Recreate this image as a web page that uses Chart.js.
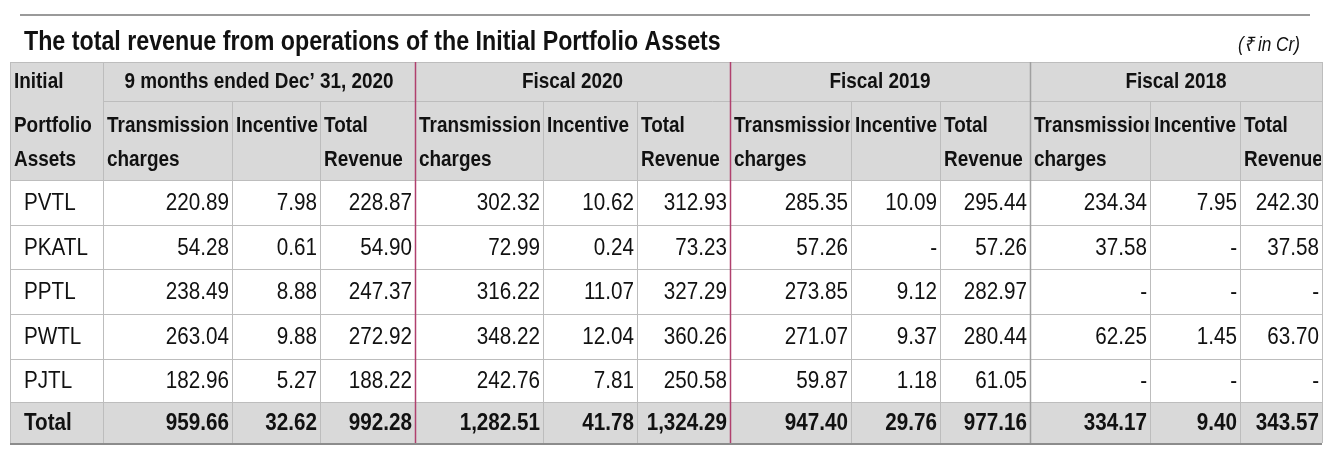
<!DOCTYPE html>
<html>
<head>
<meta charset="utf-8">
<script src="https://cdn.jsdelivr.net/npm/chart.js@4/dist/chart.umd.min.js"></script>
<style>
  html, body { margin: 0; padding: 0; background: #fff; }
  #wrap { width: 1330px; height: 463px; }
</style>
</head>
<body>
<div id="wrap"><canvas id="tbl"></canvas></div>
<script>
// Table data
const title = "The total revenue from operations of the Initial Portfolio Assets";
const unitNote = "(\u20B9 in Cr)";
const periods = ["9 months ended Dec\u2019 31, 2020", "Fiscal 2020", "Fiscal 2019", "Fiscal 2018"];
const subHeads = [["Transmission", "charges"], ["Incentive", ""], ["Total", "Revenue"]];
const assets = ["PVTL", "PKATL", "PPTL", "PWTL", "PJTL", "Total"];
const dec2020 = [
  ["220.89", "7.98", "228.87"], ["54.28", "0.61", "54.90"], ["238.49", "8.88", "247.37"],
  ["263.04", "9.88", "272.92"], ["182.96", "5.27", "188.22"], ["959.66", "32.62", "992.28"]
];
const fy2020 = [
  ["302.32", "10.62", "312.93"], ["72.99", "0.24", "73.23"], ["316.22", "11.07", "327.29"],
  ["348.22", "12.04", "360.26"], ["242.76", "7.81", "250.58"], ["1,282.51", "41.78", "1,324.29"]
];
const fy2019 = [
  ["285.35", "10.09", "295.44"], ["57.26", "-", "57.26"], ["273.85", "9.12", "282.97"],
  ["271.07", "9.37", "280.44"], ["59.87", "1.18", "61.05"], ["947.40", "29.76", "977.16"]
];
const fy2018 = [
  ["234.34", "7.95", "242.30"], ["37.58", "-", "37.58"], ["-", "-", "-"],
  ["62.25", "1.45", "63.70"], ["-", "-", "-"], ["334.17", "9.40", "343.57"]
];

// Layout (scale units)
const colEdges = [10, 103, 232, 320, 415, 543, 637, 730, 851, 940, 1030, 1150, 1240, 1322];
const rowEdges = [62, 101, 180, 225, 269, 314, 359, 402, 443];
const FONT = '"Liberation Sans", Arial, sans-serif';
const SQUEEZE = 0.86; // narrow the text like Calibri

function txt(ctx, s, x, y, align) {
  ctx.save();
  ctx.translate(x, y);
  ctx.scale(SQUEEZE, 1);
  ctx.textAlign = align;
  ctx.fillText(s, 0, 0);
  ctx.restore();
}

const tablePlugin = {
  id: "tablePlugin",
  afterDraw(chart) {
    const ctx = chart.ctx, xs = chart.scales.x, ys = chart.scales.y;
    const X = v => xs.getPixelForValue(v), Y = v => ys.getPixelForValue(v);
    ctx.save();
    ctx.textBaseline = "middle";
    // top rule
    ctx.fillStyle = "#9a9a9a";
    ctx.fillRect(X(20), Y(14), X(1310) - X(20), 2);
    // title
    ctx.fillStyle = "#111";
    ctx.font = "bold 27px " + FONT;
    txt(ctx, title, X(24), Y(43), "left");
    ctx.font = "italic 20px " + FONT;
    txt(ctx, unitNote, X(1300), Y(45), "right");
    // backgrounds
    const left = X(colEdges[0]), right = X(colEdges[colEdges.length - 1]);
    ctx.fillStyle = "#d9d9d9";
    ctx.fillRect(left, Y(rowEdges[0]), right - left, Y(rowEdges[2]) - Y(rowEdges[0]));
    ctx.fillRect(left, Y(rowEdges[7]), right - left, Y(rowEdges[8]) - Y(rowEdges[7]));
    // horizontal grid
    ctx.strokeStyle = "#bdbdbd";
    ctx.lineWidth = 1;
    rowEdges.forEach((r, i) => {
      if (i === 1) return;
      ctx.beginPath();
      ctx.moveTo(left, Y(r) + 0.5); ctx.lineTo(right, Y(r) + 0.5); ctx.stroke();
    });
    ctx.beginPath();
    ctx.moveTo(X(colEdges[1]), Y(rowEdges[1]) + 0.5); ctx.lineTo(right, Y(rowEdges[1]) + 0.5); ctx.stroke();
    // vertical grid
    colEdges.forEach((c, i) => {
      const top = (i >= 1 && i % 3 !== 1) ? rowEdges[1] : rowEdges[0];
      let color = "#bdbdbd", w = 1;
      if (i === 4 || i === 7) { color = "#b0406e"; w = 1.5; }
      if (i === 10) { color = "#a0a0a0"; w = 1.5; }
      ctx.strokeStyle = color; ctx.lineWidth = w;
      ctx.beginPath();
      ctx.moveTo(X(c) + 0.5, Y(top)); ctx.lineTo(X(c) + 0.5, Y(rowEdges[8])); ctx.stroke();
    });
    // bottom rule
    ctx.fillStyle = "#8c8c8c";
    ctx.fillRect(left, Y(443), right - left, 2);

    // headers
    ctx.fillStyle = "#111";
    ctx.font = "bold 22px " + FONT;
    txt(ctx, "Initial", X(14), Y(82), "left");
    txt(ctx, "Portfolio", X(14), Y(126), "left");
    txt(ctx, "Assets", X(14), Y(160), "left");
    periods.forEach((p, g) => {
      const a = colEdges[1 + g * 3], b = colEdges[4 + g * 3];
      txt(ctx, p, X((a + b) / 2), Y(82), "center");
    });
    for (let g = 0; g < 4; g++) {
      for (let k = 0; k < 3; k++) {
        const c0 = colEdges[1 + g * 3 + k], c1 = colEdges[2 + g * 3 + k];
        ctx.save();
        ctx.beginPath(); ctx.rect(X(c0), Y(101), X(c1) - X(c0) - 1, Y(180) - Y(101)); ctx.clip();
        txt(ctx, subHeads[k][0], X(c0) + 4, Y(126), "left");
        if (subHeads[k][1]) txt(ctx, subHeads[k][1], X(c0) + 4, Y(160), "left");
        ctx.restore();
      }
    }
    // body
    const groups = [dec2020, fy2020, fy2019, fy2018];
    assets.forEach((name, r) => {
      const cy = Y((rowEdges[r + 2] + rowEdges[r + 3]) / 2) + 1;
      const isTotal = r === assets.length - 1;
      ctx.font = (isTotal ? "bold 24px " : "24px ") + FONT;
      txt(ctx, name, X(24), cy, "left");
      groups.forEach((grp, g) => {
        grp[r].forEach((v, k) => {
          const c0 = colEdges[1 + g * 3 + k], c1 = colEdges[2 + g * 3 + k];
          ctx.save();
          ctx.beginPath(); ctx.rect(X(c0), Y(rowEdges[r + 2]), X(c1) - X(c0) + 2, 50); ctx.clip();
          txt(ctx, v, X(c1) - 3, cy, "right");
          ctx.restore();
        });
      });
    });
    ctx.restore();
  }
};

new Chart(document.getElementById("tbl").getContext("2d"), {
  type: "scatter",
  data: { datasets: [{ data: [], pointRadius: 0 }] },
  options: {
    responsive: true,
    maintainAspectRatio: false,
    animation: false,
    layout: { padding: 0 },
    plugins: { legend: { display: false }, tooltip: { enabled: false } },
    scales: {
      x: { type: "linear", min: 0, max: 1330, display: false },
      y: { type: "linear", min: 0, max: 463, reverse: true, display: false }
    }
  },
  plugins: [tablePlugin]
});
</script>
</body>
</html>
